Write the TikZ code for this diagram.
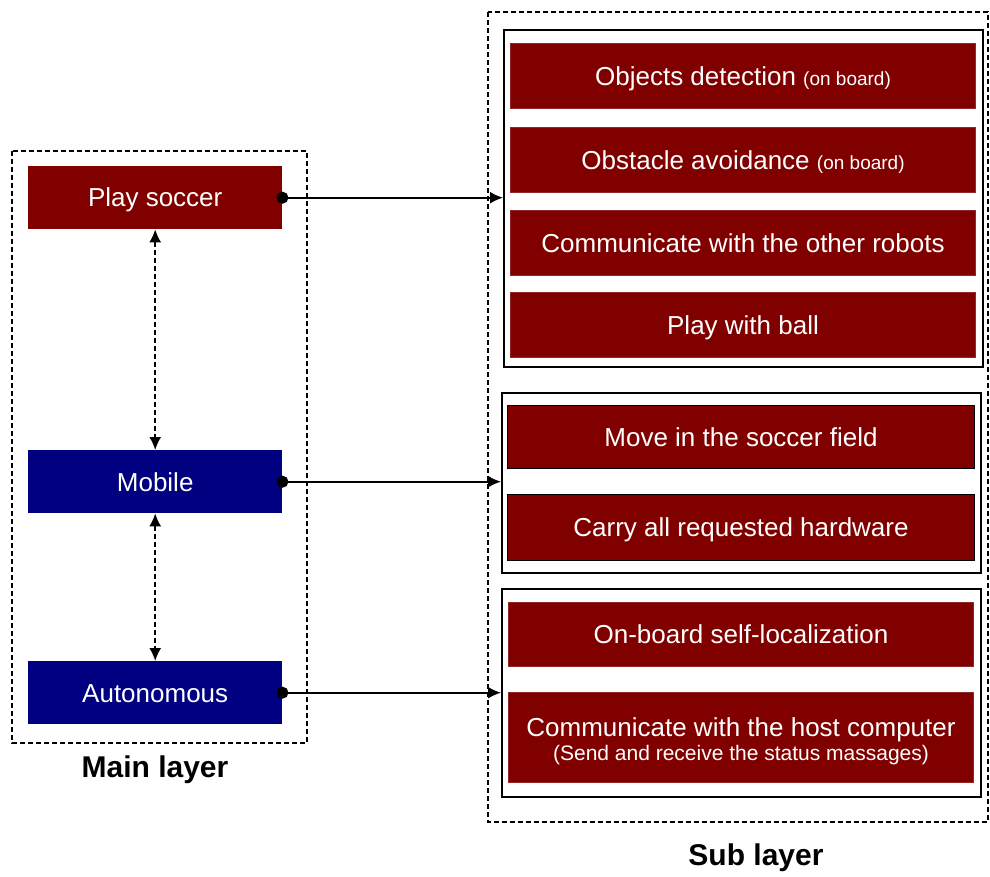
\documentclass[tikz,border=0pt]{standalone}
\usepackage{fontspec}
\setmainfont{Liberation Sans}
\usetikzlibrary{arrows.meta}

\definecolor{taskred}{RGB}{128,0,0}
\definecolor{mainblue}{RGB}{0,0,128}

\tikzset{
  capsline/.style={text height=18.6pt, text depth=0pt},
  mainbox/.style={anchor=north west, minimum width=254pt, minimum height=63pt, inner sep=0pt,
    text=white, font=\fontsize{26}{30}\selectfont, capsline},
  taskbox/.style={anchor=north west, fill=taskred, draw=taskred!85!white, line width=1pt,
    minimum width=465pt, minimum height=65pt, inner sep=0pt, text=white, align=center,
    font=\fontsize{26}{30}\selectfont},
  task/.style={taskbox, capsline},
  subframe/.style={anchor=north west, draw, line width=1.8pt, inner sep=0pt},
  layerframe/.style={draw, dash pattern=on 5pt off 3pt, line width=1.6pt},
  link/.style={line width=1.8pt, {Circle[length=12pt]}-{Latex[length=13pt,width=12pt]}},
  updown/.style={line width=1.6pt, dash pattern=on 5pt off 3pt,
    {Latex[length=13pt,width=12pt]}-{Latex[length=13pt,width=12pt]}}
}

\begin{document}
\begin{tikzpicture}[x=1pt, y=-1pt]
% page size of the reference
\fill[white] (0,0) rectangle (990,877);
\useasboundingbox (0,0) rectangle (990,877);

% Main layer
\draw[layerframe] (12,151) rectangle (307,743);
\node[mainbox, fill=taskred] (play) at (28,166) {Play soccer};
\node[mainbox, fill=mainblue] (mobile) at (28,450) {Mobile};
\node[mainbox, fill=mainblue] (auto) at (28,661) {Autonomous};
\node[font=\bfseries\fontsize{30}{34}\selectfont] (mainlbl) at (155,770) {Main layer};

\draw[updown] (play.south) -- (mobile.north);
\draw[updown] (mobile.south) -- (auto.north);

% Sub layer
\draw[layerframe] (488,12) rectangle (988,822);
\node[font=\bfseries\fontsize{30}{34}\selectfont] (sublbl) at (756,858) {Sub layer};

% group for playing soccer
\node[subframe, minimum width=479pt, minimum height=337pt] (sf1) at (503,29) {};
\node[task] (objdet) at (510,43) {Objects detection {\fontsize{19}{22}\selectfont(on board)}};
\node[task] (obstacle) at (510,127) {Obstacle avoidance {\fontsize{19}{22}\selectfont(on board)}};
\node[task] (commrob) at (510,210) {Communicate with the other robots};
\node[task] (ball) at (510,292) {Play with ball};

% group for moving
\node[subframe, minimum width=479pt, minimum height=180pt] (sf2) at (501,392) {};
\node[task, draw=black, minimum width=467pt, minimum height=63pt] (move) at (507,405) {Move in the soccer field};
\node[task, draw=black, minimum width=467pt, minimum height=66pt] (carry) at (507,494) {Carry all requested hardware};

% group for autonomy
\node[subframe, minimum width=479pt, minimum height=208pt] (sf3) at (501,588) {};
\node[task, minimum height=64pt] (selfloc) at (508,602) {On-board self-localization};
\node[taskbox, minimum height=90pt] (commhost) at (508,692)
  {\rule{0pt}{27pt}Communicate with the host computer\\[-6pt]{\fontsize{21}{24}\selectfont (Send and receive the status massages)}};

% links between the layers
\draw[link] ([xshift=-6pt]play.east) -- (play.east -| sf1.west);
\draw[link] ([xshift=-6pt]mobile.east) -- (mobile.east -| sf2.west);
\draw[link] ([xshift=-6pt]auto.east) -- (auto.east -| sf3.west);
\end{tikzpicture}
\end{document}
